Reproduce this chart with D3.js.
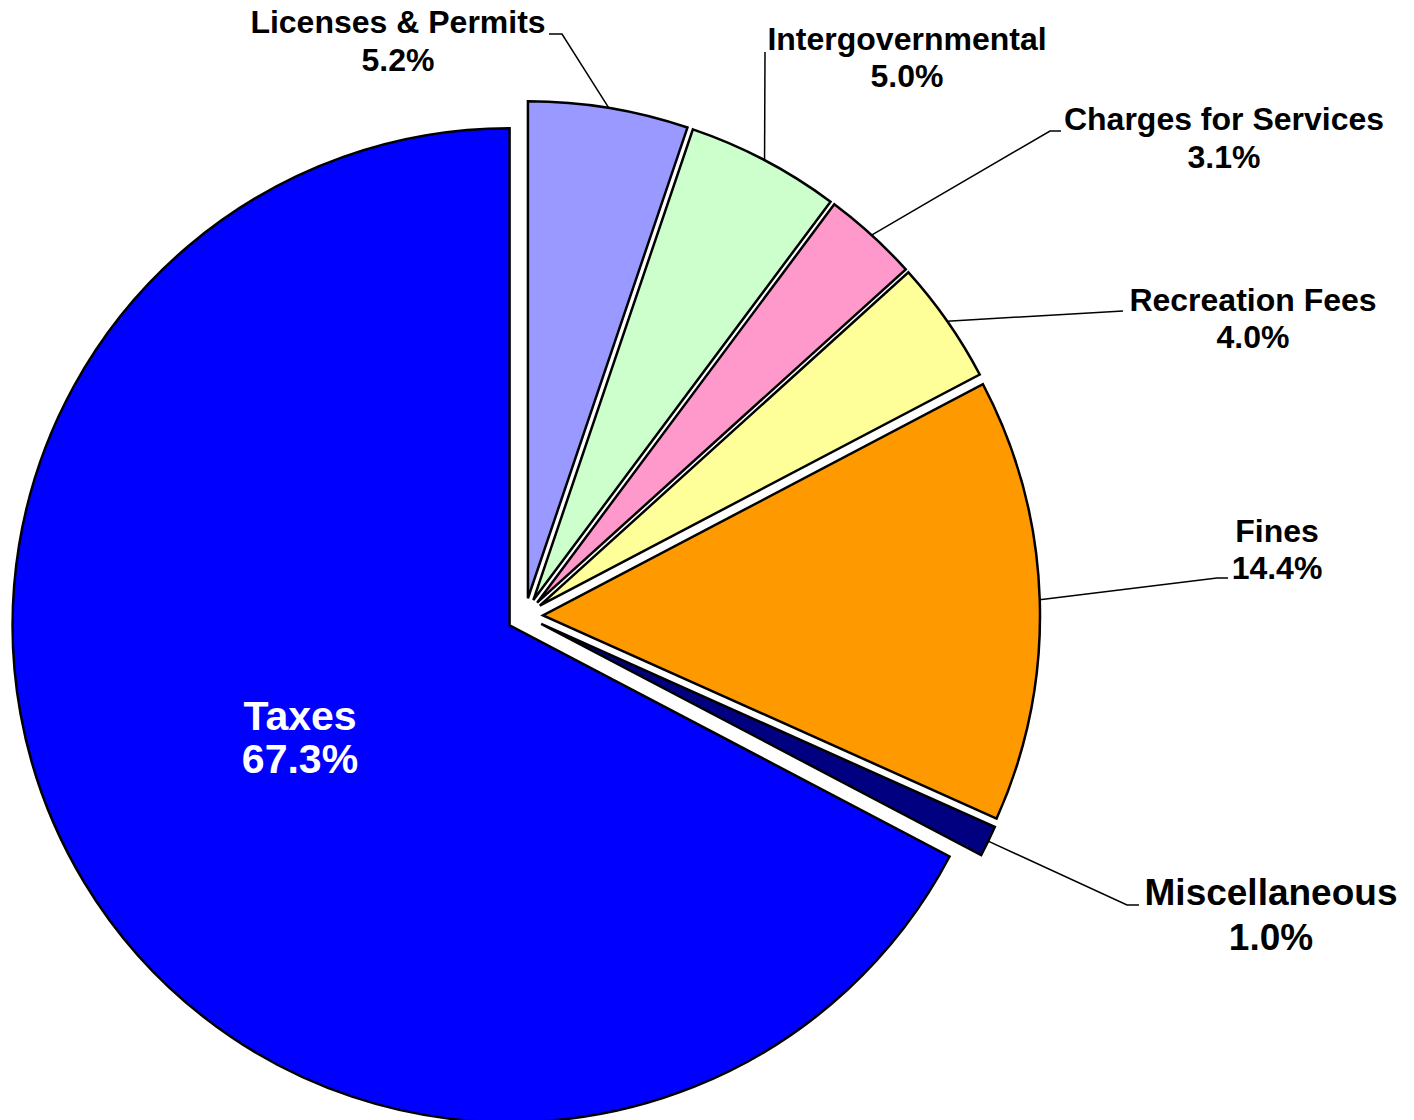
<!DOCTYPE html>
<html>
<head>
<meta charset="utf-8">
<script src="https://cdn.jsdelivr.net/npm/d3@7"></script>
<style>
  body { margin: 0; background: #fff; }
  text { font-family: "Liberation Sans", Arial, sans-serif; font-weight: bold; }
</style>
</head>
<body>
<script>
// revenue shares, clockwise from 12 o'clock
var categories = ["Licenses & Permits", "Intergovernmental", "Charges for Services",
                  "Recreation Fees", "Fines", "Miscellaneous", "Taxes"];
var shares = [5.2, 5.0, 3.1, 4.0, 14.4, 1.0, 67.3];
var sliceColors = ["#9999ff", "#ccffcc", "#ff99cc", "#ffff99", "#ff9900", "#000080", "#0000ff"];

// label placement (center x, first baseline, leader elbow, leader end)
var labelLayout = [
  {x: 398,  y: 33,  gap: 38, size: 32, elbow: [562, 34],  end: [549, 34]},
  {x: 907,  y: 50,  gap: 37, size: 32, elbow: [765, 52],  end: [765, 52]},
  {x: 1224, y: 130, gap: 38, size: 32, elbow: [1050, 131], end: [1061, 131]},
  {x: 1253, y: 311, gap: 37, size: 32, elbow: [1123, 311], end: [1123, 311]},
  {x: 1277, y: 542, gap: 37, size: 32, elbow: [1217, 578], end: [1228, 578]},
  {x: 1271, y: 905, gap: 45, size: 37, elbow: [1127, 905], end: [1139, 905]},
  {x: 300,  y: 730, gap: 43, size: 41, inside: true}
];

var width = 1414, height = 1120;
var cx = 525, cy = 616, radius = 497, explode = 18;

var svg = d3.select("body").append("svg")
    .attr("width", width)
    .attr("height", height);

var pie = d3.pie().sort(null).value(function(d) { return d; });
var arcs = pie(shares);

var arc = d3.arc().innerRadius(0).outerRadius(radius);
var edge = d3.arc().innerRadius(radius).outerRadius(radius);
var fmt = d3.format(".1f");

function shift(d) {
  var mid = (d.startAngle + d.endAngle) / 2;
  return [cx + explode * Math.sin(mid), cy - explode * Math.cos(mid)];
}

svg.append("g").selectAll("path")
  .data(arcs)
  .enter().append("path")
    .attr("transform", function(d) { return "translate(" + shift(d) + ")"; })
    .attr("d", arc)
    .attr("fill", function(d, i) { return sliceColors[i]; })
    .attr("stroke", "#000")
    .attr("stroke-width", 2.5)
    .attr("stroke-linejoin", "miter");

// leader lines
svg.append("g").selectAll("polyline")
  .data(arcs.filter(function(d, i) { return !labelLayout[i].inside; }))
  .enter().append("polyline")
    .attr("points", function(d) {
      var o = shift(d), p = edge.centroid(d), L = labelLayout[d.index];
      return [[o[0] + p[0], o[1] + p[1]], L.elbow, L.end].join(" ");
    })
    .attr("fill", "none")
    .attr("stroke", "#000")
    .attr("stroke-width", 1.5);

var labels = svg.append("g").selectAll("text")
  .data(arcs)
  .enter().append("text")
    .attr("text-anchor", "middle")
    .attr("font-size", function(d, i) { return labelLayout[i].size; })
    .attr("fill", function(d, i) { return labelLayout[i].inside ? "#fff" : "#000"; });

labels.append("tspan")
    .attr("x", function(d, i) { return labelLayout[i].x; })
    .attr("y", function(d, i) { return labelLayout[i].y; })
    .text(function(d, i) { return categories[i]; });

labels.append("tspan")
    .attr("x", function(d, i) { return labelLayout[i].x; })
    .attr("y", function(d, i) { return labelLayout[i].y + labelLayout[i].gap; })
    .text(function(d) { return fmt(d.data) + "%"; });
</script>
</body>
</html>
